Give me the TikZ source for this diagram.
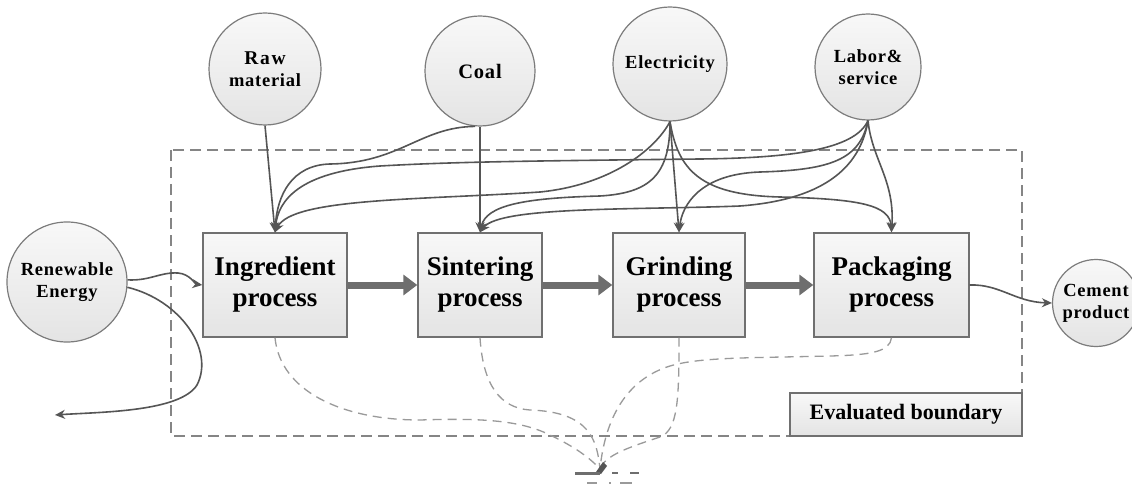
\documentclass[tikz,border=0pt]{standalone}
\usepackage{fontspec}
\setmainfont{Liberation Serif}
\newfontfamily\circfont[LetterSpace=4]{Liberation Serif}
\newfontfamily\widefont[LetterSpace=9]{Liberation Serif}
\usetikzlibrary{arrows.meta,shadings}
\definecolor{lineg}{HTML}{555555}
\definecolor{boxg}{HTML}{707070}
\definecolor{circg}{HTML}{7C7C7C}
\definecolor{bigg}{HTML}{6E6E6E}
\definecolor{dashg}{HTML}{9A9A9A}
\definecolor{boundg}{HTML}{858585}
\definecolor{fillbot}{HTML}{E4E4E4}
\definecolor{filltop}{HTML}{F8F8F8}
\tikzset{
  proc/.style={rectangle, draw=boxg, line width=1.4pt, top color=filltop, bottom color=fillbot,
    minimum height=104pt, inner sep=0pt, align=center,
    font=\bfseries\fontsize{27}{31}\selectfont},
  circ/.style={circle, draw=circg, line width=1.2pt, top color=filltop, bottom color=fillbot,
    inner sep=0pt, align=center, font=\circfont\bfseries\fontsize{18.5}{22}\selectfont},
  evalbox/.style={rectangle, draw=boxg, line width=1.4pt, top color=filltop, bottom color=fillbot,
    minimum width=232pt, minimum height=43pt, inner sep=0pt,
    font=\bfseries\fontsize{22}{24}\selectfont},
  conn/.style={draw=lineg, line width=1.6pt, -{Stealth[length=10pt,width=9pt]}},
  bigarrow/.style={draw=bigg, line width=7pt, -{Triangle[length=14pt,width=20pt]}},
  dsh/.style={draw=dashg, line width=1.3pt, dash pattern=on 9pt off 6pt},
  bound/.style={draw=boundg, line width=1.5pt, dash pattern=on 11pt off 6pt}
}
\begin{document}
\begin{tikzpicture}[x=1pt,y=-1pt]
\useasboundingbox (0,0) rectangle (1132,497);
\fill[white] (0,0) rectangle (1132,497);
% boundary
\draw[bound] (171,150) rectangle (1022,436);
% process boxes
\node[proc, minimum width=144pt] (ing) at (275,285) {Ingredient\\process};
\node[proc, minimum width=124pt] (sin) at (480,285) {Sintering\\process};
\node[proc, minimum width=132pt] (gri) at (679,285) {Grinding\\process};
\node[proc, minimum width=155pt] (pac) at (891.5,285) {Packaging\\process};
% circles
\node[circ, minimum size=120pt] (ren) at (67,282) {Renewable\\Energy};
\node[circ, minimum size=112pt] (raw) at (265,69) {\widefont\bfseries\fontsize{19.5}{23}\selectfont Raw\\material};
\node[circ, minimum size=110pt] (coal) at (480,71) {\fontsize{20.5}{24}\selectfont Coal};
\node[circ, minimum size=114pt] (elec) at (670,64) {Electricity};
\node[circ, minimum size=106pt] (lab) at (868,67) {Labor\&\\service};
\node[circ, minimum size=87pt] (cem) at (1096,303) {Cement\\product};
% evaluated boundary label
\node[evalbox] (eval) at (906,414.5) {Evaluated boundary};
% main flow
\draw[bigarrow] (ing.east) -- (sin.west);
\draw[bigarrow] (sin.east) -- (gri.west);
\draw[bigarrow] (gri.east) -- (pac.west);
% inputs
\draw[conn] (raw.south) -- (ing.north);
\draw[conn] (coal.south) -- (sin.north);
\draw[conn] (elec.south) -- (gri.north);
\draw[conn] (coal.265) .. controls (420,127) and (400,163) .. (330,164) .. controls (292,165) and (277,195) .. (ing.north);
\draw[conn] (lab.south) .. controls (855,150) and (790,158) .. (700,159) .. controls (520,161) and (450,162) .. (380,166) .. controls (300,172) and (278,200) .. (ing.north);
\draw[conn] (elec.south) .. controls (655,150) and (610,185) .. (540,192) .. controls (420,200) and (292,198) .. (ing.north);
\draw[conn] (elec.south) .. controls (670,175) and (650,193) .. (600,196) .. controls (525,198) and (486,205) .. (sin.north);
\draw[conn] (lab.south) .. controls (860,170) and (820,200) .. (740,206) .. controls (640,210) and (500,206) .. (sin.north);
\draw[conn] (lab.south) .. controls (860,160) and (830,170) .. (760,172) .. controls (700,174) and (682,205) .. (gri.north);
\draw[conn] (elec.south) .. controls (678,170) and (700,195) .. (780,197) .. controls (860,199) and (890,205) .. (pac.north);
\draw[conn] (lab.south) .. controls (872,160) and (895,180) .. (pac.north);
% renewable energy
\draw[conn] (ren.2) .. controls (150,281) and (160,272) .. (178,273) .. controls (190,274) and (195,284) .. (ing.west);
\coordinate (rout) at (55,415);
\draw[conn] (ren.-5) .. controls (180,300) and (215,350) .. (197,385) .. controls (180,412) and (100,412) .. (rout);
% product
\draw[conn] (pac.east) .. controls (1000,284) and (1015,302) .. (cem.west);
% emissions (dashed)
\coordinate (sink) at (600,469);
\draw[dsh] (ing.south) .. controls (280,390) and (340,420) .. (420,420) .. controls (480,418) and (520,420) .. (550,435) .. controls (575,447) and (590,458) .. (sink);
\draw[dsh] (sin.south) .. controls (483,385) and (500,408) .. (530,410) .. controls (590,412) and (597,440) .. (sink);
\draw[dsh] (gri.south) .. controls (679,400) and (678,430) .. (660,437) .. controls (630,447) and (605,455) .. (sink);
\draw[dsh] (pac.south) .. controls (890,352) and (870,355) .. (830,356) .. controls (750,358) and (700,357) .. (670,366) .. controls (625,380) and (605,420) .. (sink);
% marks at the bottom
\fill[lineg] (596,472) -- (603,462) -- (607,466) -- (601,474) -- cycle;
\draw[bigg, line width=3pt] (575,473) -- (600,473);
\draw[bigg, line width=2.5pt] (612,473) -- (618,473);
\draw[bigg, line width=2.5pt] (630,473) -- (639,473);
\draw[dashg, line width=1.3pt] (587,483) -- (597,483);
\draw[dashg, line width=1.3pt] (609,483) -- (611,483);
\draw[dashg, line width=1.3pt] (620,483) -- (632,483);
\end{tikzpicture}
\end{document}
